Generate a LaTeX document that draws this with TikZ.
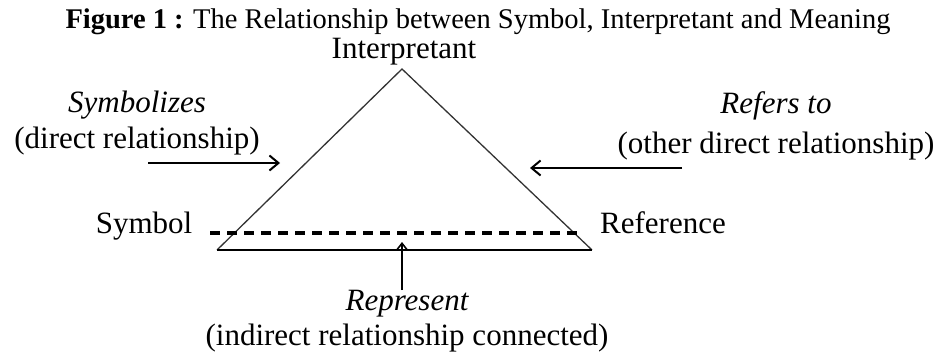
\documentclass[tikz,border=0pt]{standalone}
\usepackage{fontspec}
\setmainfont{Liberation Serif}
\usetikzlibrary{arrows.meta,positioning,calc}

\begin{document}
\begin{tikzpicture}[x=1pt,y=-1pt,>={Straight Barb[length=9pt,width=15pt]},
  lbl/.style={anchor=base,inner sep=0pt,font=\fontsize{31}{37}\selectfont},
  rel/.style={lbl,font=\fontsize{31}{37}\selectfont\itshape},
  side/.style={draw=black!80,line width=1.3pt},
  pointer/.style={->,line width=2pt}]
\useasboundingbox (0,0) rectangle (945,356);
% title
\node[lbl,font=\fontsize{28.5}{34}\selectfont] (title) at (478,28)
  {\textbf{Figure 1 :} The Relationship between Symbol, Interpretant and Meaning};
% corners
\node[lbl] (interp) at (404,58) {Interpretant};
\node[lbl] (symbol) at (144,233) {Symbol};
\node[lbl] (refer) at (663,233) {Reference};
\coordinate (apex) at (402,69);
\coordinate (bl) at (217,250);
\coordinate (br) at (592,250);
\coordinate (dl) at (210,233);
\coordinate (dr) at (584,233);
\draw[side] (bl)--(apex)--(br);
\draw[line width=2pt] (bl)--(br);
\draw[line width=3.5pt,dash pattern=on 10pt off 7pt] (dl)--(dr);
% left relation
\node[rel] (symbolizes) at (137,112) {Symbolizes};
\node[lbl] (direct) at (137,148) {(direct relationship)};
\coordinate (sa) at (148,163);
\coordinate (sb) at (280,163);
\draw[pointer] (sa)--(sb);
% right relation
\node[rel] (refersto) at (776,113) {Refers to};
\node[lbl] (other) at (776,153) {(other direct relationship)};
\coordinate (ra) at (682,168);
\coordinate (rb) at (530,168);
\draw[pointer] (ra)--(rb);
% bottom relation
\node[rel] (represent) at (407,310) {Represent};
\node[lbl] (indirect) at (407,345) {(indirect relationship connected)};
\coordinate (ua) at (402,290);
\coordinate (ub) at (402,242);
\draw[->,line width=1.6pt,>={Straight Barb[length=7pt,width=11pt]}] (ua)--(ub);
\end{tikzpicture}
\end{document}
